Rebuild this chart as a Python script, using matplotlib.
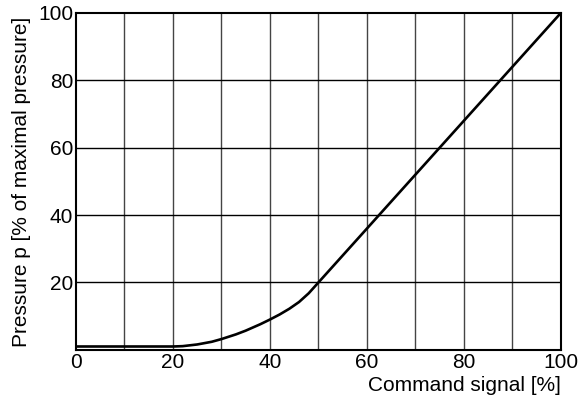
import matplotlib
matplotlib.use("Agg")
import matplotlib.pyplot as plt

signal = [0, 10, 20, 22, 25, 28, 30, 33, 35, 38, 40, 42, 44, 46, 48, 50, 60, 70, 80, 90, 100]
pressure = [1, 1, 1, 1.1, 1.6, 2.4, 3.2, 4.6, 5.7, 7.6, 9, 10.5, 12.2, 14.2, 16.8, 20, 36, 52, 68, 84, 100]

x_ticks = [0, 20, 40, 60, 80, 100]
y_ticks = [20, 40, 60, 80, 100]

plt.rcParams['font.family'] = ['Liberation Sans', 'DejaVu Sans']

fig = plt.figure(figsize=(5.8, 4.04), dpi=100)
ax = fig.add_axes([0.131, 0.134, 0.836, 0.834])

for xv in range(10, 100, 10):
    ax.axvline(xv, color='#444444', lw=1.0, zorder=1)
for yv in range(20, 100, 20):
    ax.axhline(yv, color='black', lw=1.0, zorder=1)

ax.plot(signal, pressure, color='black', lw=1.9, zorder=3, solid_capstyle='round')

ax.set_xlim(0, 100)
ax.set_ylim(0, 100)
ax.set_xticks(x_ticks)
ax.set_yticks(y_ticks)
ax.tick_params(length=0, labelsize=15, pad=2)
for s in ax.spines.values():
    s.set_linewidth(1.5)
    s.set_color('black')

ax.set_xlabel('Command signal [%]', fontsize=15, loc='right', labelpad=3)
ax.set_ylabel('Pressure p [% of maximal pressure]', fontsize=15, labelpad=5)

fig.savefig('out.png', dpi=100)
